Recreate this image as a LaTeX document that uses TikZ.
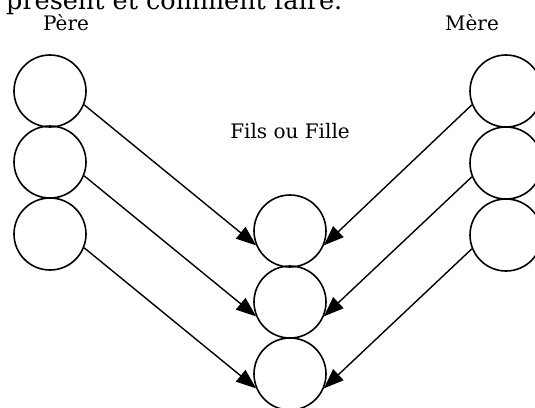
\documentclass[tikz,border=0pt]{standalone}
\usepackage{fontspec}
\setmainfont{DejaVu Serif}
\usetikzlibrary{arrows.meta}
\begin{document}
\begin{tikzpicture}[x=1pt,y=-1pt,
  gene/.style={circle,draw,line width=1.6pt,minimum size=72pt,inner sep=0pt},
  label/.style={anchor=base,inner sep=0pt,font=\fontsize{20}{22}\selectfont},
  link/.style={line width=1.4pt,-{Triangle[length=20pt,width=15pt]}}]
  \useasboundingbox (0,0) rectangle (535,407);
  \clip (0,0) rectangle (535,407);
  % line of running text above the figure
  \node[anchor=base west,inner sep=0pt,font=\fontsize{25.5}{28}\selectfont] (txt) at (6,9) {présent et comment faire.};
  % titles
  \node[label] (pere) at (66,30) {Père};
  \node[label] (mere) at (472,30) {Mère};
  \node[label] (enf) at (290,138) {Fils ou Fille};
  % father's column
  \node[gene] (p1) at (50,91) {};
  \node[gene] (p2) at (50,162) {};
  \node[gene] (p3) at (50,234) {};
  % mother's column
  \node[gene] (m1) at (506,91) {};
  \node[gene] (m2) at (506,163) {};
  \node[gene] (m3) at (506,235) {};
  % child's column
  \node[gene] (c1) at (290,231) {};
  \node[gene] (c2) at (290,302) {};
  \node[gene] (c3) at (290,374) {};
  % inheritance arrows
  \draw[link] (p1.-22) -- (c1.203);
  \draw[link] (p2.-22) -- (c2.203);
  \draw[link] (p3.-22) -- (c3.203);
  \draw[link] (m1.202) -- (c1.-23);
  \draw[link] (m2.202) -- (c2.-23);
  \draw[link] (m3.202) -- (c3.-23);
\end{tikzpicture}
\end{document}
